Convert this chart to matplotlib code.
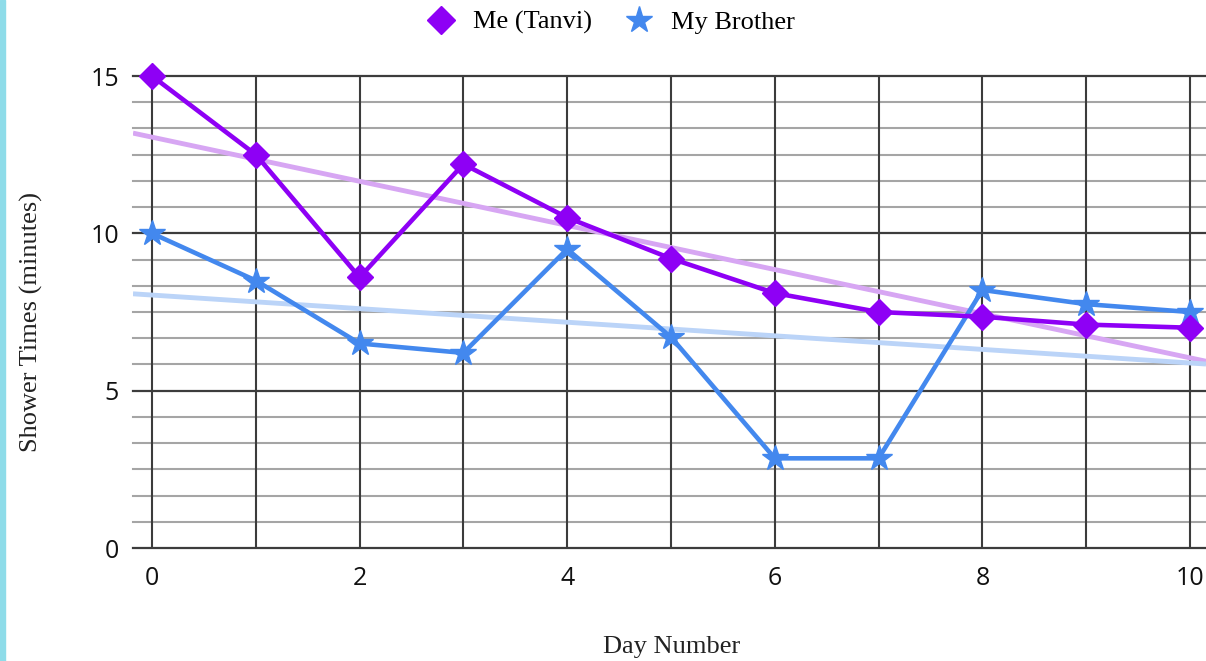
import numpy as np
import matplotlib
matplotlib.use("Agg")
import matplotlib.pyplot as plt
from matplotlib.lines import Line2D
from matplotlib.patches import Rectangle

days = [0, 1, 2, 3, 4, 5, 6, 7, 8, 9, 10]
tanvi = [15, 12.5, 8.6, 12.2, 10.5, 9.2, 8.1, 7.5, 7.35, 7.1, 7.0]
brother = [10, 8.5, 6.5, 6.2, 9.5, 6.7, 2.85, 2.85, 8.2, 7.75, 7.5]
x_ticks = [0, 2, 4, 6, 8, 10]
y_ticks = [0, 5, 10, 15]
series_names = ["Me (Tanvi)", "My Brother"]

c_tanvi = "#8E00F5"
c_bro = "#4388EE"
c_tanvi_trend = "#D7A6F3"
c_bro_trend = "#BBD4F8"

fig = plt.figure(figsize=(12.06, 6.61), dpi=100)
ax = fig.add_axes([133/1206, 1-548/661, 1-133/1206, (548-76)/661])
xlim = (-0.183, 10.154)
ax.set_xlim(*xlim)
ax.set_ylim(0, 15)

# grid
for v in np.arange(0, 15.01, 5/6):
    major = abs(v/5 - round(v/5)) < 1e-6
    ax.axhline(v, color="#3c3c3c" if major else "#a5a5a5", lw=1.6 if major else 1.5, zorder=1, clip_on=False)
for d in days:
    ax.axvline(d, color="#3c3c3c", lw=1.5, zorder=1)

for s in ax.spines.values():
    s.set_visible(False)

# trendlines
xs = np.array(xlim)
for ys, col in [(tanvi, c_tanvi_trend), (brother, c_bro_trend)]:
    m, b = np.polyfit(days, ys, 1)
    ax.plot(xs, m*xs + b, color=col, lw=3.5, zorder=2, solid_capstyle="butt")

ax.plot(days, brother, color=c_bro, lw=3.3, marker="*", ms=19, zorder=4, clip_on=False)
ax.plot(days, tanvi, color=c_tanvi, lw=3.3, marker="D", ms=13.5, zorder=5, clip_on=False)

ax.set_xticks(x_ticks)
ax.set_yticks(y_ticks)
ax.tick_params(length=0, labelsize=18)
for lab in ax.get_xticklabels() + ax.get_yticklabels():
    lab.set_fontfamily("Open Sans")
    lab.set_color("#111111")
ax.tick_params(axis="x", pad=13)
ax.tick_params(axis="y", pad=10)

serif = {"family": "Liberation Serif", "size": 19}
fig.text(0.026, 1-322/661, "Shower Times (minutes)", rotation=90, ha="center", va="center",
         color="#222222", **serif)
fig.text(672/1206, 1-647/661, "Day Number", ha="center", va="center",
         color="#222222", **serif)

handles = [Line2D([], [], ls="none", marker="D", ms=14, color=c_tanvi),
           Line2D([], [], ls="none", marker="*", ms=20, color=c_bro)]
fig.legend(handles, series_names, loc="upper center", bbox_to_anchor=(0.506, 1.02), ncol=2,
           frameon=False, prop=serif,
           handletextpad=0.6, columnspacing=1.2, handlelength=1.2)

fig.add_artist(Rectangle((0, 0), 5/1206, 1, transform=fig.transFigure, color="#8EDCE9", zorder=10))

fig.savefig("out.png", dpi=100)
